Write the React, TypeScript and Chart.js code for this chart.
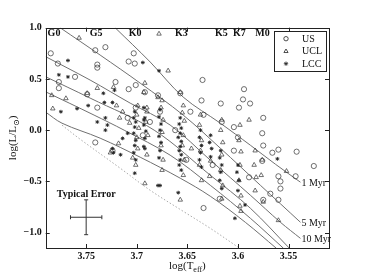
import React, { useEffect, useRef } from "react";
import { Chart, registerables } from "chart.js";

Chart.register(...registerables);

const FONT = '"Liberation Serif", "DejaVu Serif", serif';

// axis ticks
const xTicks = [3.75, 3.7, 3.65, 3.6, 3.55];
const xTickLabels = ["3.75", "3.7", "3.65", "3.6", "3.55"];
const yTicks = [1.0, 0.5, 0.0, -0.5, -1.0];
const yTickLabels = ["1.0", "0.5", "0.0", "\u22120.5", "\u22121.0"];

// spectral type markers along the top
const spectralTypes = ["G0", "G5", "K0", "K3", "K5", "K7", "M0"];
const spectralTeff = [3.7818, 3.7402, 3.7016, 3.656, 3.6164, 3.5986, 3.5758];

// isochrones [logTeff, logL]
const iso1Myr = [[3.7214, 1.0], [3.6867, 0.665], [3.6541, 0.323], [3.6174, 0.068], [3.5877, -0.147], [3.563, -0.332], [3.5382, -0.508]];
const iso5Myr = [[3.7758, 1.0], [3.7362, 0.733], [3.6966, 0.459], [3.6541, 0.147], [3.6174, -0.176], [3.5778, -0.538], [3.5382, -0.899]];
const iso10Myr = [[3.79, 0.717], [3.7461, 0.489], [3.7065, 0.264], [3.667, 0.05], [3.6273, -0.293], [3.5877, -0.635], [3.558, -0.899], [3.5382, -1.056]];
const isoOld1 = [[3.79, 0.521], [3.7461, 0.313], [3.6828, 0.0], [3.6273, -0.44], [3.5877, -0.762], [3.5491, -1.153]];
const isoOld2 = [[3.79, 0.374], [3.7422, 0.147], [3.7125, 0.0], [3.667, -0.244], [3.6273, -0.538], [3.5877, -0.86], [3.555, -1.153]];
const isoOld3 = [[3.79, 0.176], [3.7739, 0.068], [3.7362, -0.078], [3.6966, -0.264], [3.657, -0.469], [3.6273, -0.645], [3.5927, -0.899], [3.562, -1.153]];
const zams = [[3.7739, 0.049], [3.756, -0.088], [3.7164, -0.371], [3.6867, -0.587], [3.6541, -0.792], [3.6273, -0.958], [3.5996, -1.144]];
const isoLabels = ["1 Myr", "5 Myr", "10 Myr"];

// typical error bar
const errCenter = [3.75, -0.85];
const errTeff = 0.0155;
const errLum = 0.17;

// members
const usPoints = [
  [3.785, 0.75], [3.778, 0.65], [3.741, 0.78], [3.731, 0.81], [3.739, 0.64], [3.739, 0.61], [3.761, 0.52], [3.777, 0.47],
  [3.777, 0.41], [3.749, 0.35], [3.721, 0.47], [3.708, 0.67], [3.702, 0.65], [3.703, 0.75], [3.708, 0.40], [3.701, 0.44],
  [3.692, 0.37], [3.739, 0.22], [3.701, 0.22], [3.709, 0.12], [3.741, -0.12], [3.724, -0.20], [3.679, 0.34], [3.635, 0.49],
  [3.657, 0.36], [3.636, 0.29], [3.594, 0.40], [3.617, 0.26], [3.599, 0.22], [3.595, 0.30], [3.588, 0.26], [3.575, 0.12],
  [3.576, -0.03], [3.634, 0.15], [3.616, 0.08], [3.604, 0.03], [3.575, -0.15], [3.566, -0.22], [3.560, -0.19], [3.542, -0.21],
  [3.525, -0.35], [3.600, -0.07], [3.604, -0.20], [3.576, -0.30], [3.560, -0.45], [3.558, -0.50], [3.558, -0.57], [3.568, -0.62],
  [3.575, -0.68], [3.560, -0.68], [3.589, -0.46], [3.618, -0.67], [3.625, -0.34], [3.543, -0.45], [3.634, -0.76], [3.647, 0.18],
  [3.677, 0.18], [3.662, 0.0], [3.687, 0.08], [3.651, -0.29], [3.694, -0.05],
];
const uclPoints = [
  [3.757, 0.90], [3.678, 0.94], [3.669, 0.58], [3.692, 0.46], [3.784, 0.34], [3.783, 0.21], [3.770, 0.31], [3.739, 0.41],
  [3.723, 0.42], [3.657, 0.37], [3.679, 0.32], [3.720, 0.24], [3.749, 0.36], [3.693, 0.37], [3.717, 0.12], [3.707, 0.07],
  [3.690, 0.22], [3.714, 0.18], [3.692, -0.52], [3.657, -0.68], [3.718, -0.13], [3.704, -0.27], [3.726, -0.22],
  [3.699, 0.24], [3.700, 0.15], [3.698, 0.02], [3.700, -0.07], [3.699, -0.18], [3.701, -0.34],
  [3.690, 0.18], [3.691, 0.08], [3.689, -0.05], [3.690, -0.24],
  [3.675, 0.29], [3.676, 0.22], [3.674, 0.10], [3.675, -0.02], [3.676, -0.15], [3.674, -0.29], [3.675, -0.39],
  [3.654, 0.24], [3.655, 0.17], [3.653, 0.09], [3.654, -0.05], [3.655, -0.15], [3.653, -0.29], [3.654, -0.44],
  [3.637, 0.15], [3.638, 0.05], [3.636, -0.10], [3.637, -0.20], [3.638, -0.34], [3.636, -0.49],
  [3.616, 0.10], [3.617, 0.0], [3.615, -0.12], [3.616, -0.24], [3.617, -0.39], [3.615, -0.54], [3.616, -0.67],
  [3.598, 0.05], [3.599, -0.10], [3.597, -0.21], [3.598, -0.34], [3.599, -0.49], [3.597, -0.64], [3.598, -0.74],
  [3.583, -0.20], [3.584, -0.34], [3.582, -0.46], [3.583, -0.59],
  [3.576, -0.29], [3.577, -0.44], [3.575, -0.70],
  [3.627, -0.30], [3.628, -0.45],
  [3.552, -0.40], [3.560, -0.88], [3.589, 0.10], [3.646, -0.18], [3.597, -0.79],
];
const lccPoints = [
  [3.768, 0.68], [3.777, 0.54], [3.768, 0.52], [3.775, 0.18], [3.759, 0.21], [3.733, 0.36], [3.694, 0.66], [3.678, 0.58],
  [3.748, 0.24], [3.731, 0.12], [3.739, 0.08], [3.732, 0.27], [3.724, 0.27], [3.722, 0.39], [3.693, 0.22], [3.693, 0.10],
  [3.731, 0.0], [3.729, 0.05], [3.724, -0.18], [3.723, -0.22], [3.714, -0.08], [3.709, -0.03], [3.702, -0.42], [3.677, -0.54],
  [3.692, -0.18], [3.716, -0.24],
  [3.702, 0.18], [3.703, 0.12], [3.701, 0.08], [3.702, 0.03], [3.703, -0.03], [3.701, -0.10], [3.702, -0.15], [3.703, -0.22], [3.701, -0.29],
  [3.692, 0.12], [3.693, 0.05], [3.691, -0.01], [3.692, -0.08], [3.693, -0.16],
  [3.677, 0.20], [3.678, 0.13], [3.676, 0.06], [3.677, 0.0], [3.678, -0.06], [3.676, -0.12], [3.677, -0.20], [3.678, -0.27],
  [3.657, 0.12], [3.658, 0.06], [3.656, 0.02], [3.657, -0.03], [3.659, -0.07], [3.656, -0.11], [3.657, -0.16], [3.658, -0.20],
  [3.656, -0.24], [3.657, -0.29], [3.658, -0.34], [3.656, -0.39],
  [3.637, 0.0], [3.638, -0.07], [3.636, -0.15], [3.637, -0.22], [3.638, -0.29], [3.636, -0.36],
  [3.627, -0.05], [3.628, -0.12], [3.626, -0.18], [3.627, -0.26],
  [3.617, -0.20], [3.618, -0.27], [3.616, -0.34], [3.617, -0.41], [3.618, -0.49], [3.616, -0.57],
  [3.600, -0.34], [3.601, -0.41], [3.599, -0.49], [3.600, -0.59],
  [3.561, -0.28], [3.603, -0.86], [3.659, -0.61], [3.679, -0.54], [3.593, -0.73],
];

const toXY = (arr: number[][]) => arr.map(([x, y]) => ({ x, y }));

function drawMarker(ctx: CanvasRenderingContext2D, kind: string, x: number, y: number, r: number) {
  ctx.beginPath();
  if (kind === "circle") {
    ctx.arc(x, y, r, 0, Math.PI * 2);
  } else if (kind === "triangle") {
    ctx.moveTo(x, y - r);
    ctx.lineTo(x - r * 0.95, y + r * 0.6);
    ctx.lineTo(x + r * 0.95, y + r * 0.6);
    ctx.closePath();
  } else {
    for (let i = 0; i < 4; i++) {
      const a = (i * Math.PI) / 4;
      ctx.moveTo(x - Math.sin(a) * r, y - Math.cos(a) * r);
      ctx.lineTo(x + Math.sin(a) * r, y + Math.cos(a) * r);
    }
  }
  ctx.stroke();
}

function drawRich(ctx: CanvasRenderingContext2D, parts: { t: string; sub?: boolean }[], cx: number, cy: number, size: number) {
  const fonts = parts.map((p) => `${p.sub ? Math.round(size * 0.72) : size}px ${FONT}`);
  let w = 0;
  parts.forEach((p, i) => {
    ctx.font = fonts[i];
    w += ctx.measureText(p.t).width;
  });
  let x = cx - w / 2;
  ctx.textAlign = "left";
  ctx.textBaseline = "alphabetic";
  parts.forEach((p, i) => {
    ctx.font = fonts[i];
    ctx.fillText(p.t, x, cy + size * 0.35 + (p.sub ? size * 0.28 : 0));
    x += ctx.measureText(p.t).width;
  });
}

const overlay = {
  id: "overlay",
  afterDatasetsDraw(chart: any) {
    const { ctx, chartArea: a, scales } = chart;
    const xs = scales.x;
    const ys = scales.y;
    ctx.save();
    // frame
    ctx.strokeStyle = "#222";
    ctx.lineWidth = 1;
    ctx.strokeRect(Math.round(a.left) + 0.5, Math.round(a.top) + 0.5, Math.round(a.right - a.left), Math.round(a.bottom - a.top));
    // inward ticks
    ctx.beginPath();
    xTicks.forEach((v) => {
      const px = Math.round(xs.getPixelForValue(v)) + 0.5;
      ctx.moveTo(px, a.bottom);
      ctx.lineTo(px, a.bottom - 4);
      ctx.moveTo(px, a.top);
      ctx.lineTo(px, a.top + 4);
    });
    yTicks.forEach((v) => {
      const py = Math.round(ys.getPixelForValue(v)) + 0.5;
      ctx.moveTo(a.left, py);
      ctx.lineTo(a.left + 4, py);
      ctx.moveTo(a.right, py);
      ctx.lineTo(a.right - 4, py);
    });
    ctx.stroke();

    ctx.fillStyle = "#111";
    // spectral types
    ctx.font = `bold 10px ${FONT}`;
    ctx.textAlign = "center";
    ctx.textBaseline = "top";
    spectralTypes.forEach((s, i) => {
      ctx.fillText(s, xs.getPixelForValue(spectralTeff[i]), a.top + 1);
    });

    // isochrone labels
    ctx.font = `10px ${FONT}`;
    ctx.textAlign = "left";
    ctx.textBaseline = "middle";
    [iso1Myr, iso5Myr, iso10Myr].forEach((iso, i) => {
      const last = iso[iso.length - 1];
      ctx.fillText(isoLabels[i], xs.getPixelForValue(last[0]) + 1, ys.getPixelForValue(last[1]) + 1.5);
    });

    // typical error
    const ex = xs.getPixelForValue(errCenter[0]);
    const ey = ys.getPixelForValue(errCenter[1]);
    const exl = xs.getPixelForValue(errCenter[0] + errTeff);
    const exr = xs.getPixelForValue(errCenter[0] - errTeff);
    const eyt = ys.getPixelForValue(errCenter[1] + errLum);
    const eyb = ys.getPixelForValue(errCenter[1] - errLum);
    ctx.strokeStyle = "#333";
    ctx.lineWidth = 1;
    ctx.beginPath();
    ctx.moveTo(exl, ey);
    ctx.lineTo(exr, ey);
    ctx.moveTo(ex, eyt);
    ctx.lineTo(ex, eyb);
    ctx.moveTo(exl, ey - 2);
    ctx.lineTo(exl, ey + 2);
    ctx.moveTo(exr, ey - 2);
    ctx.lineTo(exr, ey + 2);
    ctx.moveTo(ex - 2, eyt);
    ctx.lineTo(ex + 2, eyt);
    ctx.moveTo(ex - 2, eyb);
    ctx.lineTo(ex + 2, eyb);
    ctx.stroke();
    ctx.font = `bold 10px ${FONT}`;
    ctx.textAlign = "center";
    ctx.textBaseline = "middle";
    ctx.fillText("Typical Error", ex, eyt - 5);

    // legend
    const bw = 52;
    const bh = 40;
    const bx = a.right - bw - 3;
    const by = a.top + 3.5;
    ctx.fillStyle = "#fff";
    ctx.fillRect(bx, by, bw, bh);
    ctx.strokeStyle = "#222";
    ctx.strokeRect(Math.round(bx) + 0.5, Math.round(by) + 0.5, bw, bh);
    const entries = [
      { label: "US", kind: "circle" },
      { label: "UCL", kind: "triangle" },
      { label: "LCC", kind: "star" },
    ];
    ctx.fillStyle = "#111";
    ctx.font = `10px ${FONT}`;
    ctx.textAlign = "left";
    ctx.textBaseline = "middle";
    entries.forEach((e, i) => {
      const ry = by + 7.5 + i * 12.5;
      ctx.strokeStyle = "#222";
      ctx.lineWidth = 0.8;
      drawMarker(ctx, e.kind, bx + 12, ry, 2.2);
      ctx.fillText(e.label, bx + 28, ry + 0.5);
    });
    ctx.restore();
  },
  afterDraw(chart: any) {
    const { ctx, chartArea: a } = chart;
    ctx.save();
    ctx.fillStyle = "#111";
    // x title
    drawRich(ctx, [{ t: "log(T" }, { t: "eff", sub: true }, { t: ")" }], (a.left + a.right) / 2, 265, 11);
    // y title
    ctx.translate(12, (a.top + a.bottom) / 2);
    ctx.rotate(-Math.PI / 2);
    drawRich(ctx, [{ t: "log(L/L" }, { t: "\u2299", sub: true }, { t: ")" }], 0, 0, 11);
    ctx.restore();
  },
};

export default function App() {
  const ref = useRef<HTMLCanvasElement | null>(null);
  useEffect(() => {
    if (!ref.current) return;
    const isoStyle = (data: number[][], dashed = false) => ({
      data: toXY(data),
      showLine: true,
      pointRadius: 0,
      borderColor: dashed ? "#aaaaaa" : "#707070",
      borderWidth: 1,
      borderDash: dashed ? [1.5, 2] : [],
      tension: 0.35,
      fill: false,
    });
    const chart = new Chart(ref.current, {
      type: "scatter",
      data: {
        datasets: [
          {
            label: "LCC",
            data: toXY(lccPoints),
            pointStyle: "star",
            pointRadius: 1.9,
            borderColor: "#222",
            backgroundColor: "#222",
            borderWidth: 0.9,
          },
          {
            label: "UCL",
            data: toXY(uclPoints),
            pointStyle: "triangle",
            pointRadius: 2.6,
            borderColor: "#333",
            backgroundColor: "rgba(0,0,0,0)",
            borderWidth: 0.7,
          },
          {
            label: "US",
            data: toXY(usPoints),
            pointStyle: "circle",
            pointRadius: 2.6,
            borderColor: "#333",
            backgroundColor: "rgba(0,0,0,0)",
            borderWidth: 0.7,
          },
          isoStyle(iso1Myr) as any,
          isoStyle(iso5Myr) as any,
          isoStyle(iso10Myr) as any,
          isoStyle(isoOld1) as any,
          isoStyle(isoOld2) as any,
          isoStyle(isoOld3) as any,
          isoStyle(zams, true) as any,
        ],
      },
      options: {
        animation: false,
        responsive: false,
        devicePixelRatio: 1,
        layout: { padding: { top: 27.7, right: 37, left: 0, bottom: 0 } },
        plugins: { legend: { display: false }, tooltip: { enabled: false } },
        scales: {
          x: {
            type: "linear",
            reverse: true,
            min: 3.51,
            max: 3.79,
            grid: { display: false, drawTicks: false },
            border: { display: false },
            afterFit: (s: any) => {
              s.height = 28;
            },
            afterBuildTicks: (s: any) => {
              s.ticks = xTicks.map((v) => ({ value: v }));
            },
            ticks: {
              padding: 2,
              color: "#111",
              font: { family: FONT, size: 10, weight: "bold" },
              callback: (v: any) => {
                const i = xTicks.findIndex((t) => Math.abs(t - v) < 1e-6);
                return i >= 0 ? xTickLabels[i] : "";
              },
            },
          },
          y: {
            type: "linear",
            min: -1.15,
            max: 1.0,
            grid: { display: false, drawTicks: false },
            border: { display: false },
            afterFit: (s: any) => {
              s.width = 45.7;
            },
            afterBuildTicks: (s: any) => {
              s.ticks = yTicks.map((v) => ({ value: v }));
            },
            ticks: {
              padding: 4,
              color: "#111",
              font: { family: FONT, size: 10, weight: "bold" },
              callback: (v: any) => {
                const i = yTicks.findIndex((t) => Math.abs(t - v) < 1e-6);
                return i >= 0 ? yTickLabels[i] : "";
              },
            },
          },
        },
      },
      plugins: [overlay],
    });
    return () => chart.destroy();
  }, []);
  return (
    <div style={{ position: "fixed", left: 0, top: 0, width: 366, height: 276, background: "#fff" }}>
      <canvas ref={ref} width={366} height={276} style={{ width: 366, height: 276 }} />
    </div>
  );
}
